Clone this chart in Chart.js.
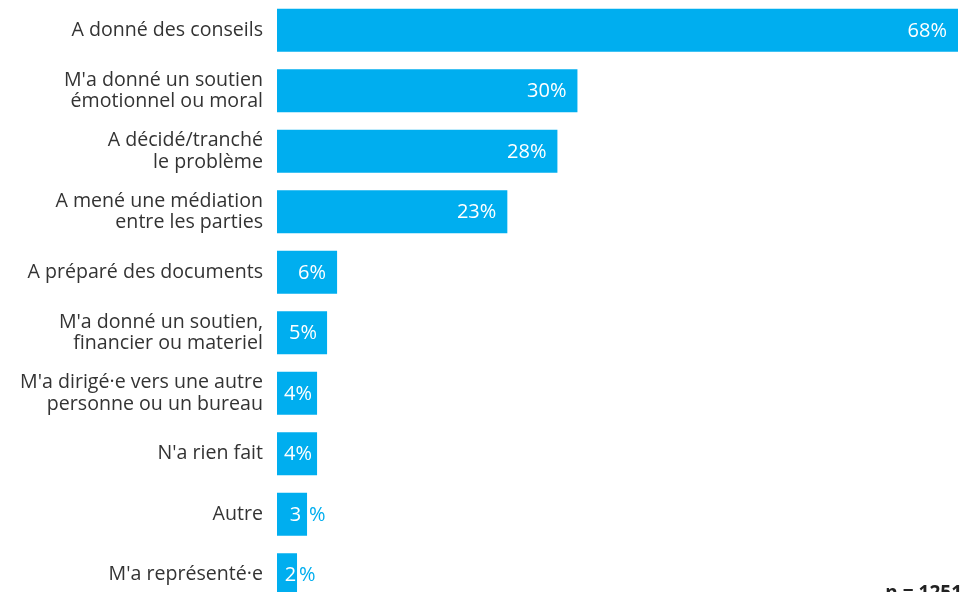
<!DOCTYPE html>
<html>
<head>
<meta charset="utf-8">
<script src="https://cdn.jsdelivr.net/npm/chart.js@4"></script>
<style>
    html, body { margin: 0; padding: 0; overflow: hidden; background: #fff; }
    #wrap { position: relative; width: 975px; height: 605px; }
</style>
</head>
<body>
<div id="wrap"><canvas id="graphCanvas"></canvas></div>
<script>
var labels = [
    "A donné des conseils",
    ["M'a donné un soutien", "émotionnel ou moral"],
    ["A décidé/tranché", "le problème"],
    ["A mené une médiation", "entre les parties"],
    "A préparé des documents",
    ["M'a donné un soutien,", "financier ou materiel"],
    ["M'a dirigé·e vers une autre", "personne ou un bureau"],
    "N'a rien fait",
    "Autre",
    "M'a représenté·e"
];
var values = [68, 30, 28, 23, 6, 5, 4, 4, 3, 2];
var sampleNote = "n = 1251";

var barColor = '#00AEEF';
var fontFamily = "'Open Sans', 'Noto Sans', sans-serif";

// value labels: right side inside the bar, centred on short bars,
// and the % sign spilling outside when the bar is too narrow
var valueLabels = {
    id: 'valueLabels',
    afterDatasetsDraw: function (chart) {
        var ctx = chart.ctx;
        var meta = chart.getDatasetMeta(0);
        ctx.save();
        ctx.font = '20px ' + fontFamily;
        ctx.textBaseline = 'middle';
        meta.data.forEach(function (bar, i) {
            var v = values[i];
            var txt = v + '%';
            var w = ctx.measureText(txt).width;
            var len = bar.x - bar.base;
            var y = bar.y + 1;
            if (len >= w + 30) {
                ctx.fillStyle = '#fff';
                ctx.textAlign = 'right';
                ctx.fillText(txt, bar.x - 11, y);
            } else if (len >= w + 4) {
                ctx.fillStyle = '#fff';
                ctx.textAlign = 'center';
                ctx.fillText(txt, (bar.x + bar.base) / 2 + 1, y);
            } else {
                ctx.fillStyle = '#fff';
                ctx.textAlign = 'center';
                ctx.fillText(String(v), (bar.x + bar.base) / 2 + 3.5, y);
                ctx.fillStyle = barColor;
                ctx.textAlign = 'left';
                ctx.fillText('%', bar.x + 2, y);
            }
        });
        ctx.font = 'bold 19px ' + fontFamily;
        ctx.fillStyle = '#222';
        ctx.textAlign = 'right';
        ctx.textBaseline = 'alphabetic';
        ctx.fillText(sampleNote, 962, 599);
        ctx.restore();
    }
};

var graphTarget = document.getElementById('graphCanvas');

var barGraph = new Chart(graphTarget, {
    type: 'bar',
    data: {
        labels: labels,
        datasets: [
            {
                data: values,
                backgroundColor: barColor,
                borderWidth: 0,
                barPercentage: 0.71,
                categoryPercentage: 1
            }
        ]
    },
    options: {
        indexAxis: 'y',
        responsive: true,
        maintainAspectRatio: false,
        animation: false,
        layout: { padding: { top: 0, right: 17, bottom: 0, left: 0 } },
        plugins: {
            legend: { display: false },
            tooltip: { enabled: false }
        },
        scales: {
            x: {
                display: false,
                min: 0,
                max: 68
            },
            y: {
                grid: { display: false, drawTicks: false },
                border: { display: false },
                ticks: {
                    padding: 14,
                    color: '#333',
                    font: { size: 19.6, family: fontFamily, lineHeight: 1.09 }
                },
                afterFit: function (scale) {
                    scale.width = 277;
                    scale.paddingTop = 0;
                    scale.paddingBottom = 0;
                }
            }
        }
    },
    plugins: [valueLabels]
});
</script>
</body>
</html>
